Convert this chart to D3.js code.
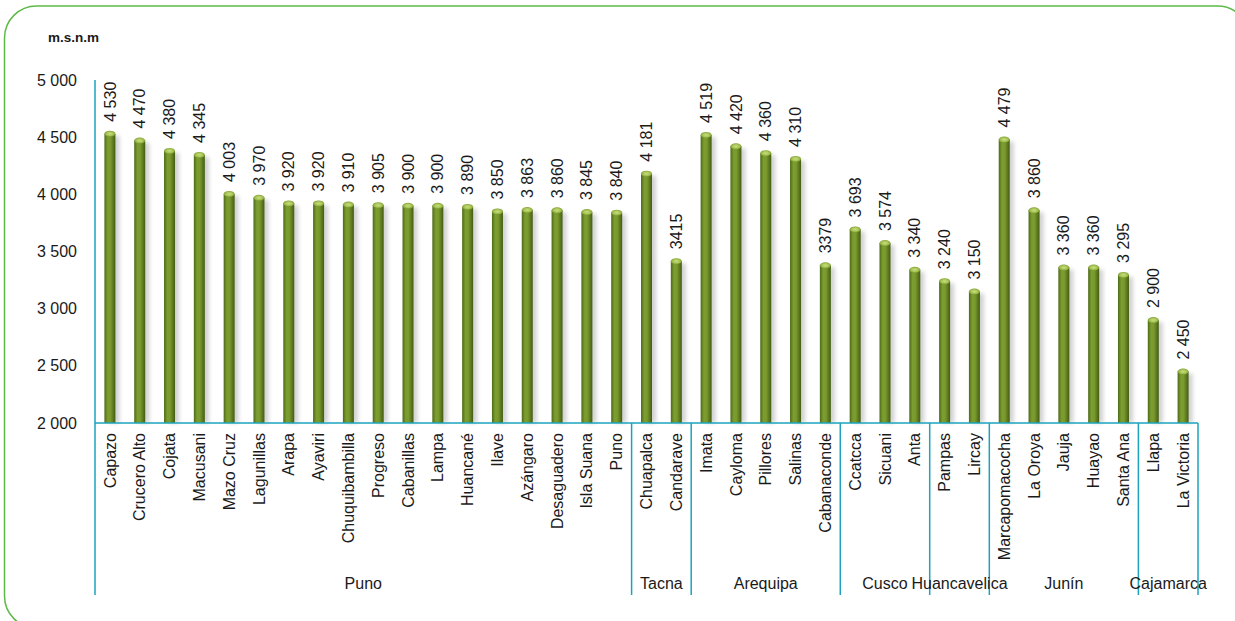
<!DOCTYPE html>
<html>
<head>
<meta charset="utf-8">
<script src="https://cdn.jsdelivr.net/npm/d3@7/dist/d3.min.js"></script>
<style>
  html, body { margin: 0; padding: 0; background: #fff; }
  svg { display: block; }
  text { font-family: "Liberation Sans", Arial, sans-serif; fill: #1a1a1a; }
</style>
</head>
<body>
<svg id="chart" width="1235" height="621"></svg>
<script>
// ---- Data ----
const categories = [
  "Capazo","Crucero Alto","Cojata","Macusani","Mazo Cruz","Lagunillas","Arapa","Ayaviri",
  "Chuquibambilla","Progreso","Cabanillas","Lampa","Huancané","Ilave","Azángaro","Desaguadero",
  "Isla Suana","Puno",
  "Chuapalca","Candarave",
  "Imata","Cayloma","Pillores","Salinas","Cabanaconde",
  "Ccatcca","Sicuani","Anta",
  "Pampas","Lircay",
  "Marcapomacocha","La Oroya","Jauja","Huayao","Santa Ana",
  "Llapa","La Victoria"
];
const values = [
  4530,4470,4380,4345,4003,3970,3920,3920,3910,3905,3900,3900,3890,3850,3863,3860,3845,3840,
  4181,3415,
  4519,4420,4360,4310,3379,
  3693,3574,3340,
  3240,3150,
  4479,3860,3360,3360,3295,
  2900,2450
];
const valueLabels = [
  "4 530","4 470","4 380","4 345","4 003","3 970","3 920","3 920","3 910","3 905","3 900","3 900",
  "3 890","3 850","3 863","3 860","3 845","3 840",
  "4 181","3415",
  "4 519","4 420","4 360","4 310","3379",
  "3 693","3 574","3 340",
  "3 240","3 150",
  "4 479","3 860","3 360","3 360","3 295",
  "2 900","2 450"
];
const groups = ["Puno","Tacna","Arequipa","Cusco","Huancavelica","Junín","Cajamarca"];
const groupSizes = [18,2,5,3,2,5,2];
const yTicks = [2000,2500,3000,3500,4000,4500,5000];
const yTickLabels = ["2 000","2 500","3 000","3 500","4 000","4 500","5 000"];
const unitLabel = "m.s.n.m";

// ---- Layout ----
const svg = d3.select("#chart");
const mLeft = 95, mRight = 1198, mTop = 80, mBottom = 423, axisEnd = 595;
const teal = "#1ba3bd";

// frame
svg.append("rect")
  .attr("x", 4.5).attr("y", 6).attr("width", 1245).attr("height", 622)
  .attr("rx", 32).attr("ry", 32)
  .attr("fill", "none").attr("stroke", "#5dba47").attr("stroke-width", 1.5);

const defs = svg.append("defs");
const grad = defs.append("linearGradient").attr("id", "barGrad")
  .attr("x1", "0%").attr("x2", "100%").attr("y1", "0%").attr("y2", "0%");
[["0%","#4d6a18"],["30%","#7c9d30"],["55%","#7a9a2d"],["100%","#435d14"]].forEach(s =>
  grad.append("stop").attr("offset", s[0]).attr("stop-color", s[1]));
const topGrad = defs.append("radialGradient").attr("id", "topGrad");
[["0%","#c8de7e"],["60%","#a9c658"],["100%","#7f9e32"]].forEach(s =>
  topGrad.append("stop").attr("offset", s[0]).attr("stop-color", s[1]));
const blur = defs.append("filter").attr("id", "shadow")
  .attr("x", "-100%").attr("y", "-10%").attr("width", "300%").attr("height", "120%");
blur.append("feGaussianBlur").attr("stdDeviation", 2.2);

const x = d3.scaleBand().domain(categories).range([mLeft, mRight]).paddingInner(0).paddingOuter(0);
const y = d3.scaleLinear().domain([2000, 5000]).range([mBottom, mTop]);
const bw = 11;

// unit label
svg.append("text").attr("x", 48).attr("y", 42)
  .attr("font-size", 13.5).attr("font-weight", "bold").text(unitLabel);

// y tick labels
const yAxis = d3.axisLeft(y).tickValues(yTicks)
  .tickFormat((d, i) => yTickLabels[i]).tickSize(0).tickPadding(18);
const yg = svg.append("g").attr("transform", `translate(${mLeft},0)`).call(yAxis);
yg.select(".domain").remove();
yg.selectAll("text").attr("font-size", 16).attr("fill", "#1a1a1a")
  .style("font-family", "Liberation Sans, Arial, sans-serif");

// bars
const bars = svg.append("g");
const cx = d => x(d) + x.bandwidth() / 2;
bars.selectAll("rect.sh").data(categories).join("rect").attr("class", "sh")
  .attr("x", d => cx(d) - bw / 2 + 4).attr("width", bw)
  .attr("y", (d, i) => y(values[i]) + 2).attr("height", (d, i) => mBottom - y(values[i]) - 2)
  .attr("fill", "#000").attr("opacity", 0.18).attr("filter", "url(#shadow)");
bars.selectAll("rect.b").data(categories).join("rect").attr("class", "b")
  .attr("x", d => cx(d) - bw / 2).attr("width", bw)
  .attr("y", (d, i) => y(values[i])).attr("height", (d, i) => mBottom - y(values[i]))
  .attr("fill", "url(#barGrad)");
bars.selectAll("ellipse").data(categories).join("ellipse")
  .attr("cx", cx).attr("cy", (d, i) => y(values[i]))
  .attr("rx", bw / 2).attr("ry", 3)
  .attr("fill", "url(#topGrad)");

// value labels
svg.append("g").selectAll("text").data(categories).join("text")
  .attr("transform", (d, i) => `translate(${cx(d)},${y(values[i]) - 12}) rotate(-90)`)
  .attr("dy", "0.35em").attr("font-size", 16).attr("text-anchor", "start")
  .text((d, i) => valueLabels[i]);

// axes lines
svg.append("line").attr("x1", mLeft).attr("x2", mLeft).attr("y1", mTop).attr("y2", axisEnd)
  .attr("stroke", teal).attr("stroke-width", 1.5);
svg.append("line").attr("x1", mLeft).attr("x2", mRight).attr("y1", mBottom).attr("y2", mBottom)
  .attr("stroke", teal).attr("stroke-width", 1.5);

// category labels
svg.append("g").selectAll("text").data(categories).join("text")
  .attr("transform", d => `translate(${cx(d)},${mBottom + 10}) rotate(-90)`)
  .attr("dy", "0.35em").attr("font-size", 16).attr("text-anchor", "end")
  .text(d => d);

// group separators and labels
let start = 0;
groups.forEach((g, gi) => {
  const s = categories[start];
  const e = categories[start + groupSizes[gi] - 1];
  const x0 = x(s), x1 = x(e) + x.bandwidth();
  svg.append("line").attr("x1", x1).attr("x2", x1).attr("y1", mBottom).attr("y2", axisEnd)
    .attr("stroke", teal).attr("stroke-width", 1.5);
  svg.append("text").attr("x", (x0 + x1) / 2).attr("y", 589)
    .attr("text-anchor", "middle").attr("font-size", 16).text(g);
  start += groupSizes[gi];
});
</script>
</body>
</html>
